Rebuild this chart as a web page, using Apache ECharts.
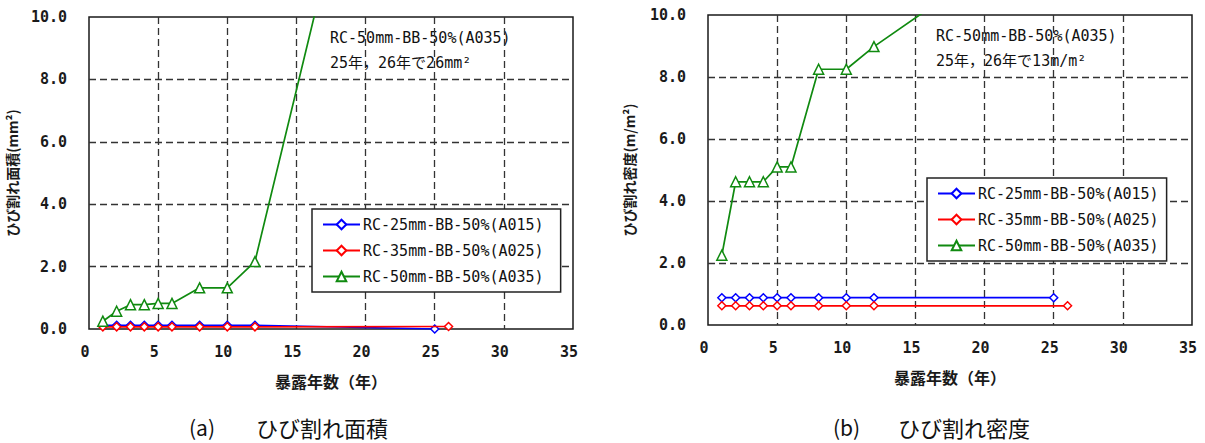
<!DOCTYPE html>
<html>
<head>
<meta charset="utf-8">
<script src="https://cdn.jsdelivr.net/npm/echarts@6/dist/echarts.min.js"></script>
<style>
html,body{margin:0;padding:0;background:#fff;}
#chart{width:1205px;height:443px;}
</style>
</head>
<body>
<div id="chart"></div>
<script>
// ---- data ----
const yearsA015 = [1, 2, 3, 4, 5, 6, 8, 10, 12, 25];
const yearsA025 = [1, 2, 3, 4, 5, 6, 8, 10, 12, 26];
const yearsA035 = [1, 2, 3, 4, 5, 6, 8, 10, 12, 25, 26];

const areaA015 = [0.12, 0.12, 0.12, 0.12, 0.12, 0.12, 0.12, 0.12, 0.12, 0.0];
const areaA025 = [0.07, 0.07, 0.07, 0.07, 0.07, 0.07, 0.07, 0.07, 0.07, 0.08];
const areaA035 = [0.25, 0.57, 0.78, 0.78, 0.82, 0.82, 1.32, 1.32, 2.16, 26, 26];

const densA015 = [0.88, 0.88, 0.88, 0.88, 0.88, 0.88, 0.88, 0.88, 0.88, 0.88];
const densA025 = [0.62, 0.62, 0.62, 0.62, 0.62, 0.62, 0.62, 0.62, 0.62, 0.62];
const densA035 = [2.25, 4.62, 4.62, 4.62, 5.1, 5.1, 8.25, 8.25, 8.98, 13, 13];

const seriesNames = ['RC-25mm-BB-50%(A015)', 'RC-35mm-BB-50%(A025)', 'RC-50mm-BB-50%(A035)'];
const xTitle = '暴露年数（年）';
const yTitles = ['ひび割れ面積(mm²)', 'ひび割れ密度(m/m²)'];
const captionTags = ['(a)', '(b)'];
const captionTexts = ['ひび割れ面積', 'ひび割れ密度'];
const noteLine1 = 'RC-50mm-BB-50%(A035)';
const noteLine2 = ['25年，26年で26mm²', '25年，26年で13m/m²'];

// ---- style ----
const MONO = "'DejaVu Sans Mono', 'Noto Sans CJK JP', monospace";
const CJK = "'Noto Sans CJK JP', sans-serif";
const colors = ['#0000ff', '#ff0000', '#108a10'];
const symbols = ['diamond', 'diamond', 'triangle'];
const symSizes = [8, 8, 10];

const zip = (xs, ys) => xs.map((x, i) => [x, ys[i]]);

const grids = [
  {left: 89, top: 17, width: 484, height: 312},
  {left: 708, top: 15, width: 484, height: 310}
];

function xAxis(gi) {
  return {
    type: 'value', gridIndex: gi, min: 0, max: 35, interval: 5,
    axisLine: {show: false}, axisTick: {show: false},
    axisLabel: {fontFamily: MONO, fontWeight: 'bold', fontSize: 15, color: '#1a1a1a', margin: 15, padding: [0, 8, 0, 0]},
    splitLine: {show: true, showMinLine: false, showMaxLine: false, lineStyle: {color: '#333', width: 1.3, type: [7, 4]}},
    name: xTitle, nameLocation: 'middle', nameGap: 44,
    nameTextStyle: {fontFamily: CJK, fontWeight: 'bold', fontSize: 16, color: '#1a1a1a'}
  };
}
function yAxis(gi, gap) {
  return {
    type: 'value', gridIndex: gi, min: 0, max: 10, interval: 2,
    axisLine: {show: false}, axisTick: {show: false},
    axisLabel: {fontFamily: MONO, fontWeight: 'bold', fontSize: 15, color: '#1a1a1a', margin: 22,
      formatter: v => v.toFixed(1)},
    splitLine: {show: true, showMinLine: false, showMaxLine: false, lineStyle: {color: '#333', width: 1.3, type: [7, 4]}},
    name: yTitles[gi], nameLocation: 'middle', nameRotate: 90, nameGap: gap,
    nameTextStyle: {fontFamily: CJK, fontWeight: 'bold', fontSize: 14, color: '#1a1a1a'}
  };
}

function mkSeries(gi, name, idx, xs, ys) {
  return {
    type: 'line', name: name, xAxisIndex: gi, yAxisIndex: gi,
    data: zip(xs, ys), clip: true,
    symbol: symbols[idx], symbolSize: symSizes[idx], showAllSymbol: true,
    lineStyle: {color: colors[idx], width: 1.7},
    itemStyle: {color: '#ffffff', borderColor: colors[idx], borderWidth: 1.5},
    emphasis: {disabled: true}, animation: false, z: 3 + idx
  };
}

const legendCommon = {
  orient: 'vertical', itemWidth: 37, itemHeight: 12, itemGap: 11,
  backgroundColor: '#fff', borderColor: '#222', borderWidth: 1.5,
  textStyle: {fontFamily: MONO, fontSize: 15, color: '#111', padding: [0, 0, 0, -2]},
  selectedMode: false
};

const capStyle = (t, size) => ({text: t, font: size + 'px ' + CJK, lineHeight: 24, fill: '#111', verticalAlign: 'middle', align: 'left'});

const chart = echarts.init(document.getElementById('chart'), null, {renderer: 'svg'});
chart.setOption({
  animation: false,
  backgroundColor: '#fff',
  grid: grids.map(g => Object.assign({show: true, borderColor: '#1a1a1a', borderWidth: 1.5, backgroundColor: 'transparent'}, g)),
  xAxis: [xAxis(0), xAxis(1)],
  yAxis: [yAxis(0, 70), yAxis(1, 72)],
  legend: [
    Object.assign({}, legendCommon, {left: 312, top: 209, padding: [8, 8, 8, 10],
      data: seriesNames.map(n => n + ' ')}),
    Object.assign({}, legendCommon, {left: 927, top: 178, padding: [8, 8, 8, 10],
      data: seriesNames})
  ],
  series: [
    mkSeries(0, seriesNames[0] + ' ', 0, yearsA015, areaA015),
    mkSeries(0, seriesNames[1] + ' ', 1, yearsA025, areaA025),
    mkSeries(0, seriesNames[2] + ' ', 2, yearsA035, areaA035),
    mkSeries(1, seriesNames[0], 0, yearsA015, densA015),
    mkSeries(1, seriesNames[1], 1, yearsA025, densA025),
    mkSeries(1, seriesNames[2], 2, yearsA035, densA035)
  ],
  graphic: [
    {type: 'text', left: 330, top: 30, style: {text: noteLine1, font: '15px ' + MONO, fill: '#111'}},
    {type: 'text', left: 330, top: 55, style: {text: noteLine2[0], font: '15px ' + MONO, fill: '#111'}},
    {type: 'text', left: 936, top: 28, style: {text: noteLine1, font: '15px ' + MONO, fill: '#111'}},
    {type: 'text', left: 936, top: 53, style: {text: noteLine2[1], font: '15px ' + MONO, fill: '#111'}},
    {type: 'text', x: 189, y: 427, style: capStyle(captionTags[0], 21)},
    {type: 'text', x: 256, y: 427, style: capStyle(captionTexts[0], 22)},
    {type: 'text', x: 833, y: 427, style: capStyle(captionTags[1], 21)},
    {type: 'text', x: 898, y: 427, style: capStyle(captionTexts[1], 22)}
  ]
});
</script>
</body>
</html>
